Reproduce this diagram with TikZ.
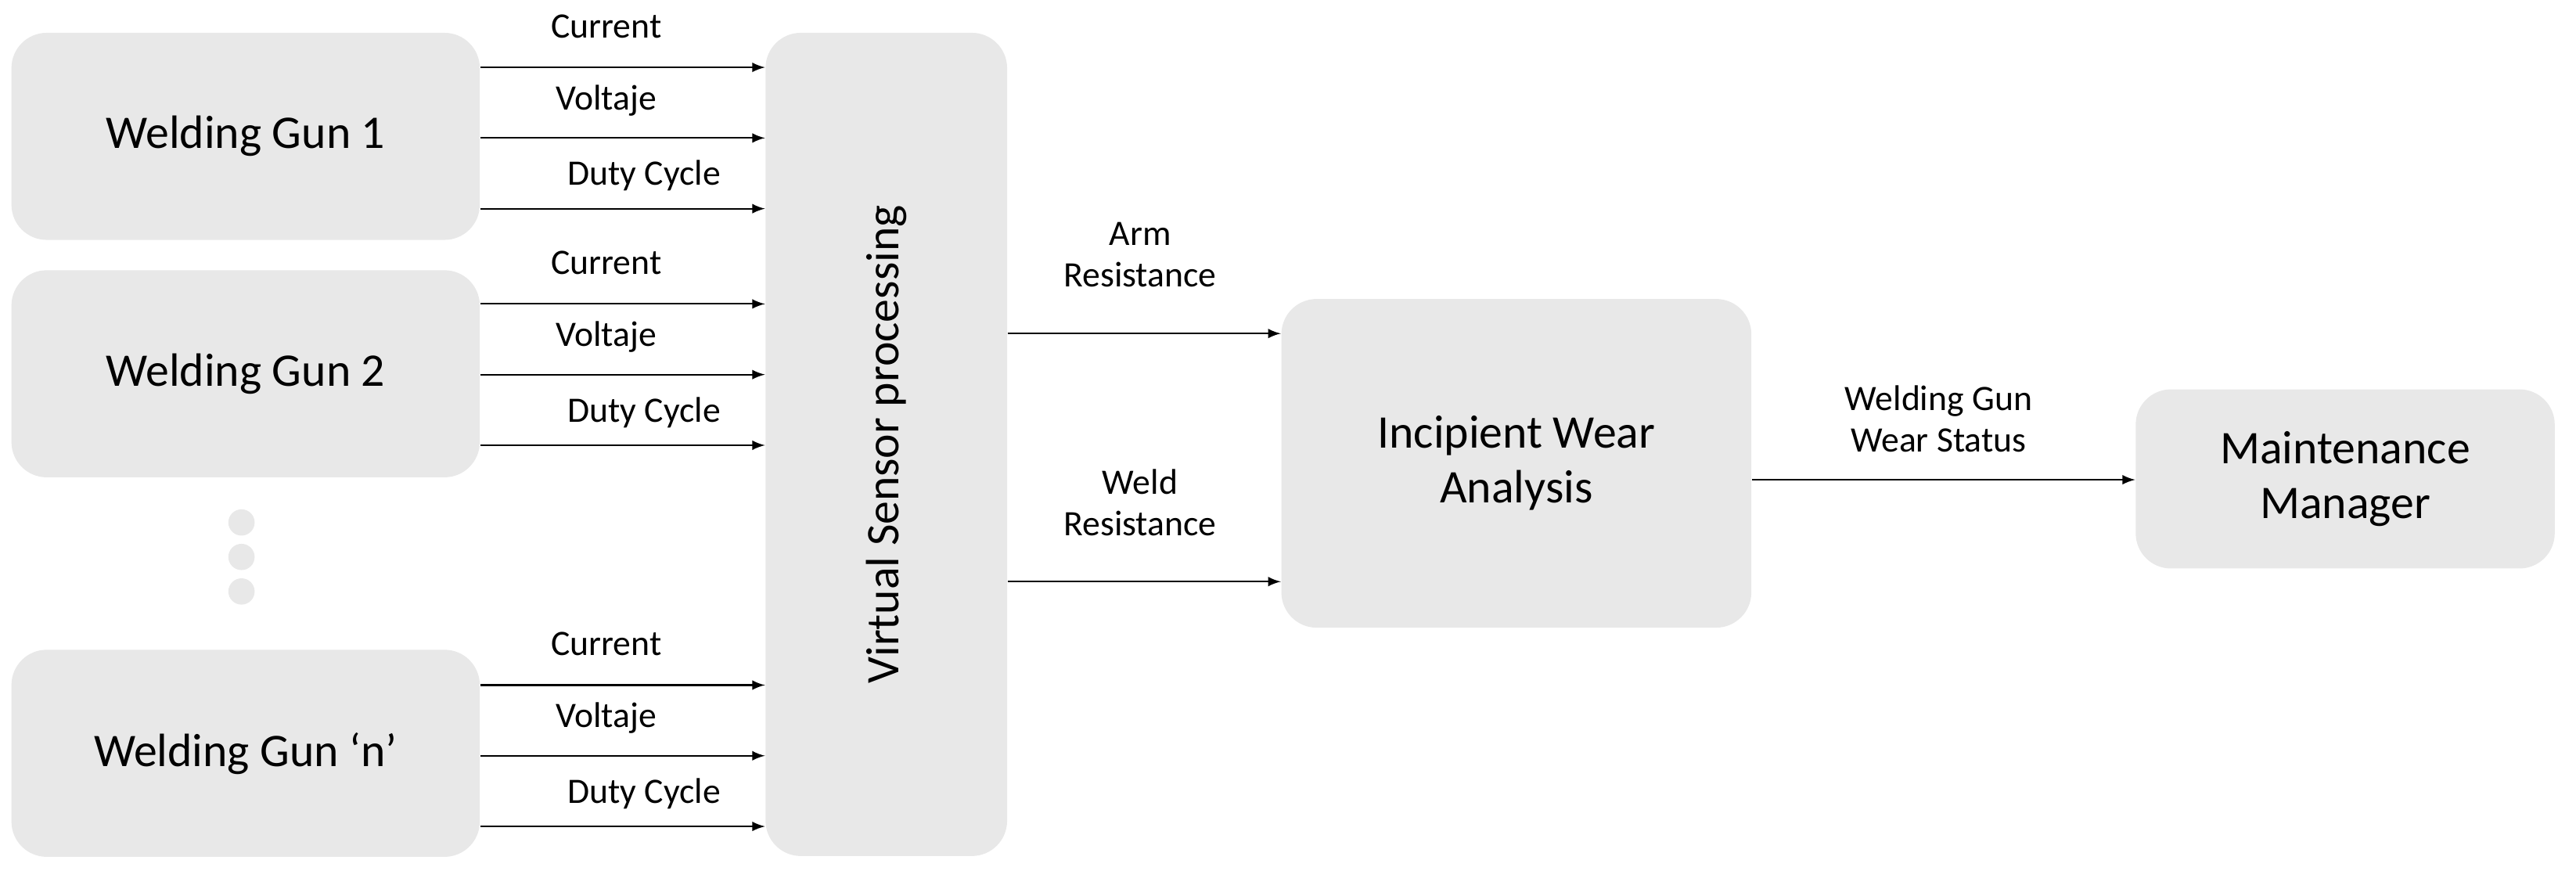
\documentclass[tikz,border=0pt]{standalone}
\usepackage{fontspec}
\setmainfont{Carlito}
\begin{document}
\begin{tikzpicture}[x=0.021cm,y=-0.021cm,
 box/.style={fill=black!9,draw=none,rounded corners=0.45cm,inner sep=0pt,align=center,font=\fontsize{17}{20}\selectfont},
 lab/.style={font=\fontsize{13}{15}\selectfont,align=center},
 arr/.style={-latex,line width=0.6pt}]
\useasboundingbox (0,0) rectangle (1568,534);
\node[box,minimum width=5.985cm,minimum height=2.646cm] (g1) at (149.5,83) {Welding Gun 1};
\node[box,minimum width=5.985cm,minimum height=2.646cm] (g2) at (149.5,227.5) {Welding Gun 2};
\node[box,minimum width=5.985cm,minimum height=2.646cm] (gn) at (149.5,458.5) {Welding Gun ‘n’};
\node[box,minimum width=3.087cm,minimum height=10.52cm] (vs) at (539.5,270.5) {};
\node[font=\fontsize{17}{20}\selectfont,rotate=90] (vst) at (vs.center) {Virtual Sensor processing};
\node[box,minimum width=6.006cm,minimum height=4.2cm] (iw) at (923,282) {Incipient Wear\\Analysis};
\node[box,minimum width=5.355cm,minimum height=2.289cm] (mm) at (1427.5,291.5) {Maintenance\\Manager};
\foreach \i/\y in {1/318,2/339,3/360} \fill[black!9] (147,\y) circle (8);
\foreach \n/\b in {g1/41,g2/185,gn/417}{
 \draw[arr] (\n.east |- 0,\b) -- (vs.west |- 0,\b);
 \draw[arr] (\n.east |- 0,\b+43) -- (vs.west |- 0,\b+43);
 \draw[arr] (\n.east |- 0,\b+86) -- (vs.west |- 0,\b+86);
 \node[lab] at (369,\b-25) {Current};
 \node[lab] at (369,\b+20) {Voltaje};
 \node[lab] at (392,\b+66) {Duty Cycle};
}
\draw[arr] (vs.east |- 0,203) -- (iw.west |- 0,203);
\node[lab] at (694,155) {Arm\\Resistance};
\draw[arr] (vs.east |- 0,354) -- (iw.west |- 0,354);
\node[lab] at (694,306) {Weld\\Resistance};
\draw[arr] (iw.east |- 0,292) -- (mm.west |- 0,292);
\node[lab] at (1180,255) {Welding Gun\\Wear Status};
\end{tikzpicture}
\end{document}
